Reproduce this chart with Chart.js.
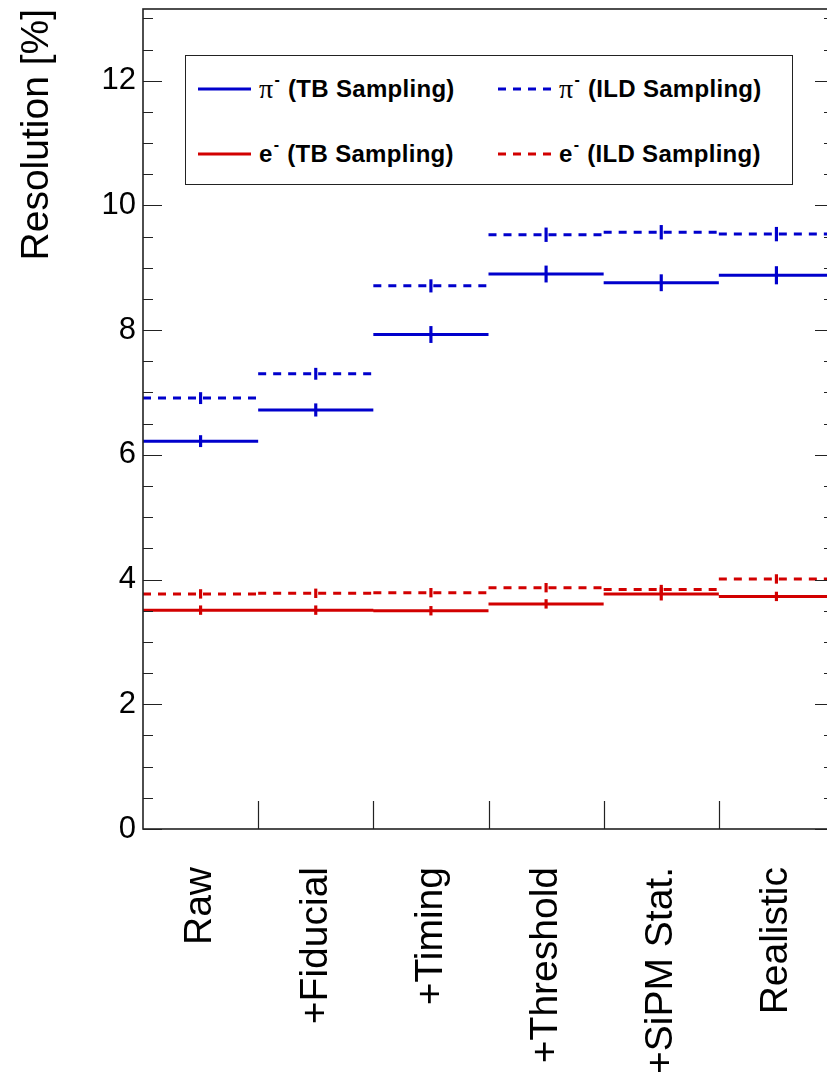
<!DOCTYPE html>
<html>
<head>
<meta charset="utf-8">
<script src="https://cdn.jsdelivr.net/npm/chart.js@4.4.1/dist/chart.umd.min.js"></script>
<style>
    body { margin: 0; background: #fff; overflow: hidden; }
    #wrap { position: relative; width: 845px; height: 1074px; }
    #legend {
        position: absolute; left: 185px; top: 55px; width: 606px; height: 128px;
        border: 1px solid #222; background: #fff;
        font: bold 24px 'Liberation Sans', Arial, Helvetica, sans-serif; color: #000;
    }
    .item { position: absolute; height: 30px; display: flex; align-items: center; white-space: nowrap; letter-spacing: 0.3px; }
    .item svg { margin-right: 8px; }
    .sym-pi { font-family: 'Liberation Serif', 'DejaVu Serif', serif; font-weight: normal; font-size: 28px; }
    .item sup { font-size: 16px; line-height: 1; position: relative; top: -9px; margin: 0 8px 0 1px; vertical-align: baseline; }
</style>
</head>
<body>
<div id="wrap">
    <canvas id="resChart" width="845" height="1074"></canvas>
    <div id="legend"></div>
</div>
<script>
const categories = ['Raw', '+Fiducial', '+Timing', '+Threshold', '+SiPM Stat.', 'Realistic'];

// pi- resolution [%]
const piTB = [6.22, 6.72, 7.93, 8.90, 8.76, 8.88];
const piTBErr = [0.09, 0.10, 0.13, 0.13, 0.13, 0.14];
const piILD = [6.91, 7.30, 8.71, 9.53, 9.57, 9.54];
const piILDErr = [0.09, 0.09, 0.10, 0.11, 0.11, 0.11];

// e- resolution [%]
const eTB = [3.51, 3.51, 3.50, 3.61, 3.77, 3.73];
const eTBErr = [0.07, 0.07, 0.07, 0.07, 0.10, 0.07];
const eILD = [3.77, 3.78, 3.79, 3.87, 3.84, 4.01];
const eILDErr = [0.07, 0.07, 0.07, 0.07, 0.07, 0.07];

const yTicks = [0, 2, 4, 6, 8, 10, 12];
const yMinorStep = 0.5;
const yMax = 13.15;

const BLUE = '#0000cc';
const RED = '#d20000';
const FONT = "'Liberation Sans', Arial, Helvetica, sans-serif";

const series = [
    { sym: 'π', sampling: 'TB Sampling', values: piTB, errors: piTBErr, color: BLUE, dash: [] },
    { sym: 'π', sampling: 'ILD Sampling', values: piILD, errors: piILDErr, color: BLUE, dash: [8, 7] },
    { sym: 'e', sampling: 'TB Sampling', values: eTB, errors: eTBErr, color: RED, dash: [] },
    { sym: 'e', sampling: 'ILD Sampling', values: eILD, errors: eILDErr, color: RED, dash: [8, 7] }
];

// horizontal line over each bin, broken between bins
function binLine(values) {
    const pts = [];
    values.forEach((v, i) => {
        pts.push({ x: i, y: v }, { x: i + 1, y: v }, { x: i + 1, y: null });
    });
    return pts;
}

function errorBars(values, errors) {
    return values.map((v, i) => ({ x: i + 0.5, y: [v - errors[i], v + errors[i]] }));
}

// no extra room for first/last labels, the plot frame is placed by hand
function noPadding(scale) {
    scale.paddingTop = 0;
    scale.paddingBottom = 0;
    scale.paddingLeft = 0;
    scale.paddingRight = 0;
}

const datasets = [];
series.forEach(s => {
    datasets.push({
        type: 'line',
        label: `${s.sym}⁻ (${s.sampling})`,
        data: binLine(s.values),
        borderColor: s.color,
        borderWidth: 3,
        borderDash: s.dash,
        borderCapStyle: 'butt',
        pointRadius: 0,
        spanGaps: false,
        tension: 0
    });
    datasets.push({
        type: 'bar',
        label: `${s.sym}⁻ (${s.sampling}) err`,
        data: errorBars(s.values, s.errors),
        backgroundColor: s.color,
        barThickness: 2.5,
        grouped: false,
        borderWidth: 0
    });
});

// frame, inward y ticks and bin edge ticks like the ROOT canvas
const frameTicks = {
    id: 'frameTicks',
    afterDatasetsDraw(chart) {
        const { ctx, chartArea: a, scales: { x, y } } = chart;
        ctx.save();
        ctx.strokeStyle = '#222';
        ctx.lineWidth = 1.2;
        ctx.beginPath();
        for (let k = 0; k * yMinorStep <= yMax; k++) {
            const v = k * yMinorStep;
            const py = Math.round(y.getPixelForValue(v)) + 0.5;
            const len = yTicks.includes(v) ? 19 : 10;
            ctx.moveTo(a.left, py);
            ctx.lineTo(a.left + len, py);
            ctx.moveTo(a.right, py);
            ctx.lineTo(a.right - len, py);
        }
        for (let i = 1; i < categories.length; i++) {
            const px = Math.round(x.getPixelForValue(i)) + 0.5;
            ctx.moveTo(px, a.bottom);
            ctx.lineTo(px, a.bottom - 28);
        }
        ctx.stroke();
        ctx.lineWidth = 1.6;
        ctx.strokeRect(a.left, a.top, a.right - a.left, a.bottom - a.top);
        ctx.restore();
    }
};

function buildLegend() {
    const legend = document.getElementById('legend');
    const cols = [12, 312];
    const rows = [33, 98];
    series.forEach((s, i) => {
        const item = document.createElement('div');
        item.className = 'item';
        item.style.left = cols[i % 2] + 'px';
        item.style.top = (rows[Math.floor(i / 2)] - 15) + 'px';
        const dash = s.dash.length ? `stroke-dasharray="${s.dash.join(' ')}"` : '';
        const symClass = s.sym === 'π' ? 'sym-pi' : '';
        item.innerHTML = `<svg width="53" height="4"><line x1="0" y1="2" x2="53" y2="2" stroke="${s.color}" stroke-width="3" ${dash}/></svg>` +
            `<span class="${symClass}">${s.sym}</span><sup>-</sup><span>(${s.sampling})</span>`;
        legend.appendChild(item);
    });
}

document.addEventListener('DOMContentLoaded', () => {
    const ctx = document.getElementById('resChart').getContext('2d');
    new Chart(ctx, {
        type: 'line',
        data: { datasets: datasets },
        options: {
            responsive: false,
            animation: false,
            layout: { padding: { top: 9, right: 11, left: 0, bottom: 0 } },
            plugins: { legend: { display: false }, tooltip: { enabled: false } },
            scales: {
                x: {
                    type: 'linear',
                    min: 0,
                    max: categories.length,
                    offset: false,
                    grid: { display: false, drawTicks: false },
                    border: { display: false },
                    afterBuildTicks: scale => { scale.ticks = categories.map((c, i) => ({ value: i + 0.5 })); },
                    afterFit: scale => { scale.height = 245; noPadding(scale); },
                    ticks: {
                        autoSkip: false,
                        minRotation: 90,
                        maxRotation: 90,
                        padding: 38,
                        color: '#000',
                        font: { family: FONT, size: 39 },
                        callback: value => categories[Math.floor(value)]
                    }
                },
                y: {
                    type: 'linear',
                    min: 0,
                    max: yMax,
                    grid: { display: false, drawTicks: false },
                    border: { display: false },
                    afterBuildTicks: scale => { scale.ticks = yTicks.map(v => ({ value: v })); },
                    afterFit: scale => { scale.width = 143; noPadding(scale); },
                    ticks: {
                        padding: 7,
                        color: '#000',
                        font: { family: FONT, size: 31 }
                    },
                    title: {
                        display: true,
                        text: 'Resolution [%]',
                        align: 'end',
                        color: '#000',
                        padding: { top: 14, bottom: 0 },
                        font: { family: FONT, size: 39 }
                    }
                }
            }
        },
        plugins: [frameTicks]
    });
    buildLegend();
});
</script>
</body>
</html>
